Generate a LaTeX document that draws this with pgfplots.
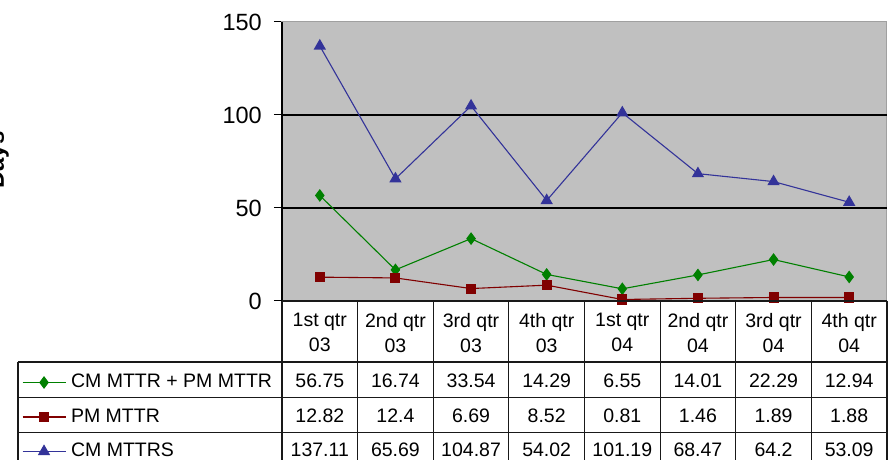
\documentclass[border=0pt]{standalone}
\usepackage{pgfplots}
\pgfplotsset{compat=1.18}
\usepackage{pgfplotstable}
\usepackage{fontspec}
\setmainfont{Liberation Sans}
\definecolor{bgsilver}{HTML}{C0C0C0}
\definecolor{cgreen}{HTML}{008000}
\definecolor{cred}{HTML}{800000}
\definecolor{cblue}{HTML}{333399}
\definecolor{framegray}{HTML}{A0A0A0}
\pgfdeclareplotmark{blank}{}
\newcommand{\tabfont}{\fontsize{19.5}{25}\selectfont}

\pgfplotstableread{
x    cmpm   pm     cm
0.5  56.75  12.82  137.11
1.5  16.74  12.4   65.69
2.5  33.54  6.69   104.87
3.5  14.29  8.52   54.02
4.5  6.55   0.81   101.19
5.5  14.01  1.46   68.47
6.5  22.29  1.89   64.2
7.5  12.94  1.88   53.09
}\data

\begin{document}
\begin{tikzpicture}
\begin{axis}[
  scale only axis, width=605pt, height=279pt,
  xmin=0, xmax=8, ymin=0, ymax=150,
  clip=false,
  axis background/.style={fill=bgsilver},
  axis line style={draw=framegray, line width=1pt},
  ytick={0,50,100,150}, ytick pos=left,
  tick align=outside, major tick length=8pt,
  ytick style={black, line width=1pt},
  yticklabel style={font=\fontsize{23.5}{28}\selectfont, inner sep=0pt, xshift=-12pt},
  /pgf/number format/assume math mode=true,
  xtick={0.5,1.5,...,7.5},
  xticklabels={{1st qtr\\03},{2nd qtr\\03},{3rd qtr\\03},{4th qtr\\03},{1st qtr\\04},{2nd qtr\\04},{3rd qtr\\04},{4th qtr\\04}},
  xtick style={draw=none},
  xticklabel style={align=center, font=\tabfont, inner sep=0pt, yshift=-4pt},
  legend style={at={(axis description cs:-0.4298,-0.258)}, anchor=north west,
    draw=none, fill=none, inner sep=0pt, outer sep=0pt, row sep=15.5pt, column sep=5pt,
    font=\tabfont,
    nodes={inner sep=0pt, text height=15pt, text depth=4pt}, cells={anchor=west}},
  legend image code/.code={\draw[mark repeat=2,mark phase=2,#1] plot coordinates {(0pt,0pt)(21.5pt,0pt)(43pt,0pt)};},
  tabrow/.style={forget plot, only marks, mark=blank,
    nodes near coords, point meta=explicit symbolic,
    every node near coord/.append style={anchor=base, inner sep=0pt, font=\tabfont, black}},
]
\draw[black, line width=1.2pt] (axis cs:0,50) -- (axis cs:8,50);
\draw[black, line width=1.2pt] (axis cs:0,100) -- (axis cs:8,100);

\addplot[cgreen, line width=1.1pt, mark=diamond*, mark size=5.5pt, mark options={fill=cgreen}] table[x=x, y=cmpm] {\data};
\addlegendentry{CM MTTR + PM MTTR}
\addplot[cred, line width=1.1pt, mark=square*, mark size=4.5pt, mark options={fill=cred}] table[x=x, y=pm] {\data};
\addlegendentry{PM MTTR}
\addplot[cblue, line width=1.1pt, mark=triangle*, mark size=6pt, mark options={fill=cblue}] table[x=x, y=cm] {\data};
\addlegendentry{CM MTTRS}

\addplot[tabrow] table[x=x, y expr=-46.77, meta=cmpm] {\data};
\addplot[tabrow] table[x=x, y expr=-65.59, meta=pm] {\data};
\addplot[tabrow] table[x=x, y expr=-83.6, meta=cm] {\data};

\draw[black, line width=1.2pt] (axis cs:0,0) -- (axis cs:0,150);
\end{axis}

% table grid
\begin{scope}[line width=1.2pt, draw=black!90]
  \draw (0,0) -- (605pt,0);
  \foreach \i in {0,...,8} {\draw (\i*75.625pt,0) -- (\i*75.625pt,-170pt);}
  \draw (-264pt,-61pt) -- (605pt,-61pt);
  \draw (-264pt,-96.5pt) -- (605pt,-96.5pt);
  \draw (-264pt,-131.5pt) -- (605pt,-131.5pt);
  \draw (-264pt,-61pt) -- (-264pt,-170pt);
\end{scope}

\node[rotate=90, anchor=base, font=\bfseries\fontsize{24}{30}\selectfont, inner sep=0pt] at (-278pt,141pt) {Days};

\pgfresetboundingbox
\useasboundingbox (-282pt,-159pt) rectangle (610pt,301pt);
\end{tikzpicture}
\end{document}
